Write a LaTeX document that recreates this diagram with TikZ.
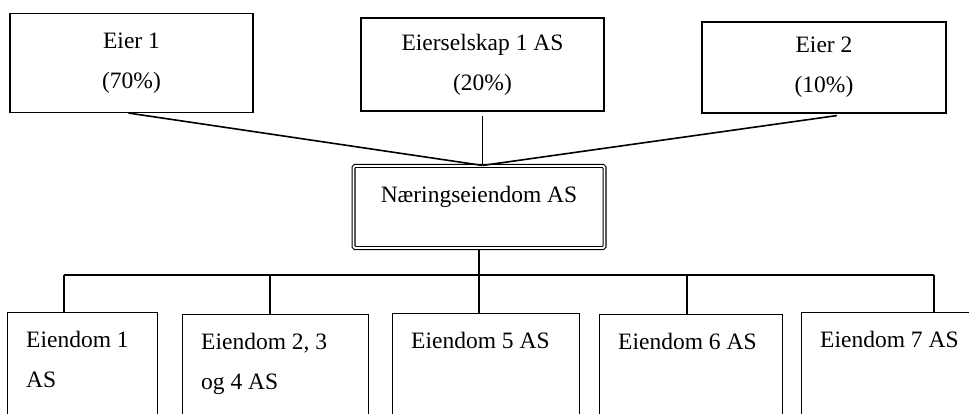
\documentclass[tikz,border=0pt]{standalone}
\usepackage{fontspec}
\setmainfont{Liberation Serif}
\usetikzlibrary{positioning}

\begin{document}
\begin{tikzpicture}[x=1pt,y=-1pt,font=\fontsize{23.5}{40}\selectfont]
\tikzstyle{owner} = [rectangle, draw, line width=1.1pt, align=center, inner sep=0pt]
\tikzstyle{holding} = [rectangle, draw, line width=1.1pt, double, double distance=1.8pt,
rounded corners=1.5pt, minimum width=251pt, minimum height=82pt, text height=16pt, text depth=24pt]
\tikzstyle{prop} = [rectangle, draw, line width=1.1pt, anchor=north west, minimum height=130pt]
\tikzstyle{proptext} = [anchor=north west, align=left, inner xsep=19pt, inner ysep=19pt]
\tikzstyle{line} = [draw, line width=1.6pt]

\clip (0,0) rectangle (969,414);

% row 1: owners
\node [owner, minimum width=243pt, minimum height=99pt] (eier1) at (131.5,63) {Eier 1\\(70\%)};
\node [owner, minimum width=243pt, minimum height=93pt] (selskap) at (482.5,64.5) {Eierselskap 1 AS\\(20\%)};
\node [owner, minimum width=244pt, minimum height=91pt] (eier2) at (824,67.5) {Eier 2\\(10\%)};

% row 2: holding company
\node [holding] (naering) at (479,207) {N\ae ringseiendom AS};

% row 3: properties
\node [prop, minimum width=150pt] (e1) at (7,312) {};
\node [prop, minimum width=186pt] (e2) at (182,314) {};
\node [prop, minimum width=187pt] (e5) at (392,313) {};
\node [prop, minimum width=183pt] (e6) at (599,314) {};
\node [prop, minimum width=190pt] (e7) at (801,312) {};
\node [proptext] (e1t) at (e1.north west) {Eiendom 1\\AS};
\node [proptext] (e2t) at (e2.north west) {Eiendom 2, 3\\og 4 AS};
\node [proptext] (e5t) at (e5.north west) {Eiendom 5 AS};
\node [proptext] (e6t) at (e6.north west) {Eiendom 6 AS};
\node [proptext] (e7t) at (e7.north west) {Eiendom 7 AS};

% bus
\coordinate (join) at (selskap.south |- naering.north);
\coordinate (d1) at (64,275);
\coordinate (d2) at (270,275);
\coordinate (d5) at (479,275);
\coordinate (d6) at (687,275);
\coordinate (d7) at (934,275);

\tikzstyle{every path}=[line]
\path ([xshift=-3pt]eier1.south) -- (join);
\path ([yshift=-4pt]selskap.south) -- (join);
\path ([xshift=13pt,yshift=-2pt]eier2.south) -- (join);
\path (naering.south) -- (naering.south |- d5);
\path (d1) -- (d7);
\path (d1) -- (d1 |- e1.north);
\path (d2) -- (d2 |- e2.north);
\path (d5) -- (d5 |- e5.north);
\path (d6) -- (d6 |- e6.north);
\path (d7) -- (d7 |- e7.north);

\end{tikzpicture}
\end{document}
